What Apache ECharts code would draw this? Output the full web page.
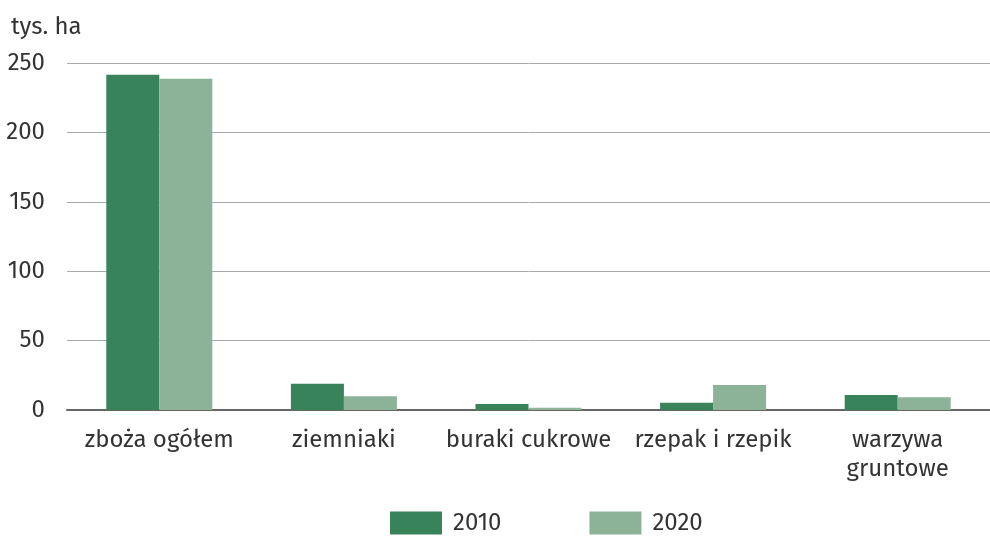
<!DOCTYPE html>
<html>
<head>
<meta charset="utf-8">
<script src="https://cdn.jsdelivr.net/npm/echarts@6/dist/echarts.min.js"></script>
<style>
  html, body { margin: 0; padding: 0; background: #fff; }
</style>
</head>
<body>
<div id="chart" style="width: 990px;height:536px;"></div>
<script>
// kategorie upraw
var categories = ['zboża ogółem', 'ziemniaki', 'buraki cukrowe', 'rzepak i rzepik', 'warzywa\ngruntowe'];
var values2010 = [241.5, 19, 4.3, 5.3, 10.8]; // tys. ha
var values2020 = [238.7, 9.9, 1.7, 18, 9.1];
var yTicks = [0, 250, 50]; // min, max, interval

var fontFam = '"Fira Sans", "Open Sans", "Noto Sans", sans-serif';
var myChart = echarts.init(document.getElementById('chart'));
myChart.setOption({
  animation: false,
  textStyle: { fontFamily: fontFam },
  title: {
    text: 'tys. ha',
    left: 6,
    top: 10,
    textStyle: { fontSize: 24, fontWeight: 'normal', color: '#333', fontFamily: fontFam }
  },
  legend: {
    bottom: -4,
    left: 385,
    icon: 'rect',
    itemWidth: 52,
    itemHeight: 23,
    itemGap: 88,
    textStyle: { fontSize: 24, color: '#333', padding: [0, 0, 0, 6] },
    data: ['2010', '2020']
  },
  grid: {
    left: 67,
    right: 0,
    top: 63,
    bottom: 126
  },
  xAxis: {
    type: 'category',
    data: categories,
    axisLine: { lineStyle: { color: '#666', width: 2 } },
    axisTick: { show: false },
    axisLabel: { interval: 0, fontSize: 24, color: '#333', margin: 16, lineHeight: 29 }
  },
  yAxis: {
    type: 'value',
    min: yTicks[0],
    max: yTicks[1],
    interval: yTicks[2],
    axisLine: { show: false },
    axisTick: { show: false },
    axisLabel: { fontSize: 24, color: '#333', margin: 22, align: 'right' },
    splitLine: { lineStyle: { color: '#aaa', width: 1 } }
  },
  series: [
    {
      name: '2010',
      type: 'bar',
      data: values2010,
      barWidth: 53,
      barGap: '0%',
      itemStyle: { color: '#38835a' }
    },
    {
      name: '2020',
      type: 'bar',
      data: values2020,
      barWidth: 53,
      barGap: '0%',
      itemStyle: { color: '#8cb297' }
    }
  ]
});
</script>
</body>
</html>
